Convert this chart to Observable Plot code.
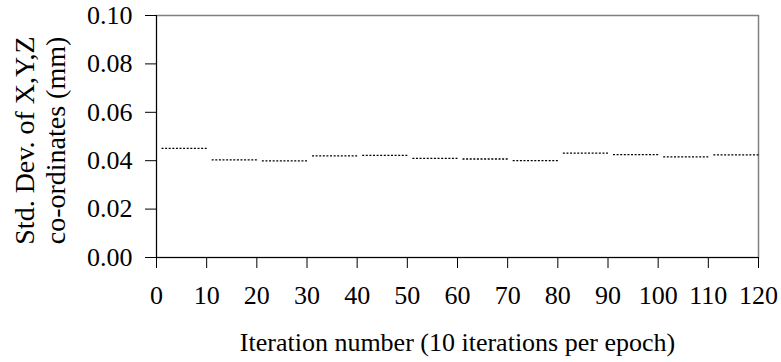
<!DOCTYPE html>
<html>
<head>
<meta charset="utf-8">
<script src="https://cdn.jsdelivr.net/npm/d3@7"></script>
<script src="https://cdn.jsdelivr.net/npm/@observablehq/plot@0.6"></script>
<style>
  html, body { margin: 0; padding: 0; background: #fff; }
  #chart { width: 781px; height: 362px; }
  #chart svg text { font-family: 'Liberation Serif', 'Times New Roman', serif; }
</style>
</head>
<body>
<div id="chart"></div>
<script>
// Epoch segments: first and last iteration of each epoch
const epochStart = [1, 11, 21, 31, 41, 51, 61, 71, 81, 91, 101, 111];
const epochEnd   = [10, 20, 30, 40, 50, 60, 70, 80, 90, 100, 110, 120];
// Std. Dev. of X,Y,Z co-ordinates (mm) per epoch
const stdDev = [0.0451, 0.0403, 0.0399, 0.0420, 0.0422, 0.0410, 0.0407, 0.0400, 0.0431, 0.0425, 0.0416, 0.0424];
const xTicks = [0, 10, 20, 30, 40, 50, 60, 70, 80, 90, 100, 110, 120];
const yTicks = [0, 0.02, 0.04, 0.06, 0.08, 0.10];

const segments = stdDev.map((v, i) => ({x1: epochStart[i], x2: epochEnd[i], y: v}));

const font = "'Liberation Serif', 'Times New Roman', serif";
const fs = 26;

const chart = Plot.plot({
  width: 781,
  height: 362,
  marginLeft: 156,
  marginRight: 23,
  marginTop: 15,
  marginBottom: 105,
  style: {fontFamily: font, fontSize: fs + "px", color: "#000", background: "#fff", overflow: "visible"},
  x: {domain: [0, 120], ticks: xTicks},
  y: {domain: [0, 0.10], ticks: yTicks},
  marks: [
    Plot.frame({stroke: "#808080", strokeWidth: 1.5}),
    Plot.ruleX([0], {stroke: "#000", strokeWidth: 1}),
    Plot.ruleY([0], {stroke: "#000", strokeWidth: 1}),
    Plot.axisY({ticks: yTicks, tickSize: 11, tickPadding: 13, tickFormat: d => d.toFixed(2), label: null, fontSize: fs, fontFamily: font, fill: "#000"}),
    Plot.axisX({ticks: xTicks, tickSize: 11, tickPadding: 17, tickFormat: d => String(d), label: null, fontSize: fs, fontFamily: font, fill: "#000"}),
    Plot.link(segments, {x1: "x1", x2: "x2", y1: "y", y2: "y", stroke: "#000", strokeWidth: 1.3, strokeDasharray: "2,1.6"}),
    Plot.text(["Std. Dev. of X,Y,Z\nco-ordinates (mm)"], {frameAnchor: "left", textAnchor: "middle", lineAnchor: "middle", dx: -117, dy: 4, rotate: -90, fontSize: 28, fontFamily: font, lineHeight: 1.1, fill: "#000"}),
    Plot.text(["Iteration number (10 iterations per epoch)"], {frameAnchor: "bottom", lineAnchor: "bottom", dy: 93, fontSize: fs, fontFamily: font, fill: "#000"})
  ]
});
document.getElementById("chart").appendChild(chart);
</script>
</body>
</html>
